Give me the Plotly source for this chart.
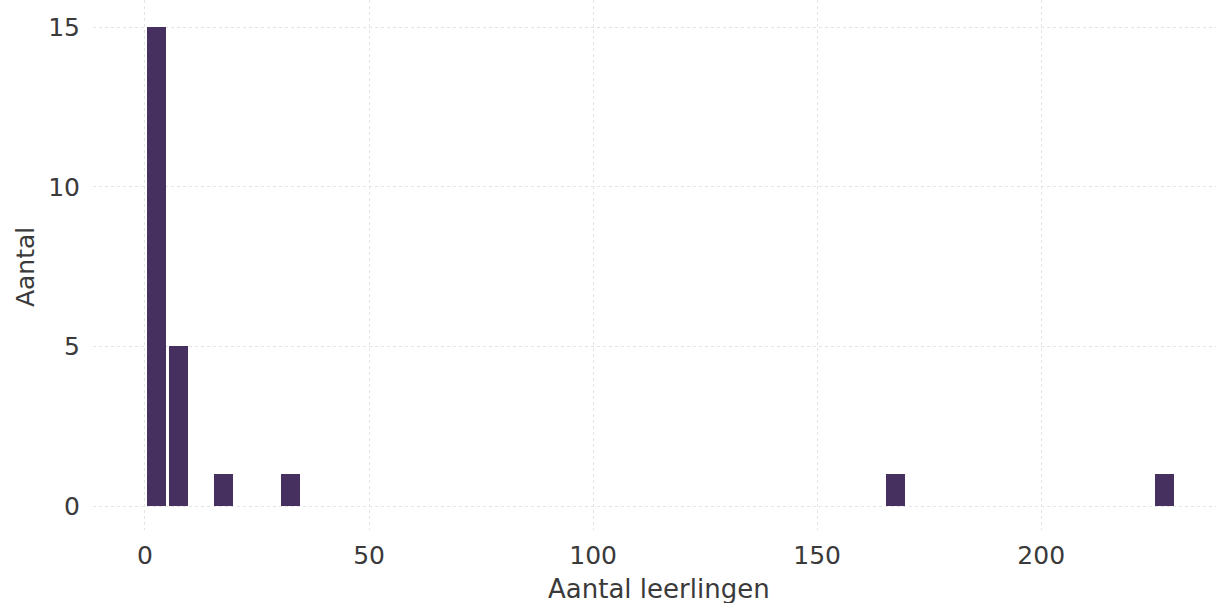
import plotly.graph_objects as go

bin_centers = [2.5, 7.5, 17.5, 32.5, 167.5, 227.5]
counts = [15, 5, 1, 1, 1, 1]
x_ticks = [0, 50, 100, 150, 200]
y_ticks = [0, 5, 10, 15]

bar_color = "#46305f"
font_color = "#3a3a3a"

fig = go.Figure()
fig.add_trace(go.Bar(
    x=bin_centers, y=counts, width=4.3,
    marker=dict(color=bar_color, line=dict(width=0)),
))

fig.update_layout(
    width=1216, height=603,
    margin=dict(l=93, r=0, t=0, b=73, autoexpand=False),
    paper_bgcolor="white", plot_bgcolor="white",
    font=dict(family="DejaVu Sans", size=25, color=font_color),
    showlegend=False,
    bargap=0,
    annotations=[
        dict(text="Aantal leerlingen", xref="paper", yref="paper", x=0.504, y=0,
             yshift=-59, xanchor="center", yanchor="middle", showarrow=False,
             font=dict(size=26, color=font_color)),
        dict(text="Aantal", xref="paper", yref="paper", x=0, y=0.496,
             xshift=-68, xanchor="center", yanchor="middle", showarrow=False,
             textangle=-90, font=dict(size=25, color=font_color)),
    ],
)
fig.update_xaxes(
    range=[-11.6, 239], tickvals=x_ticks, automargin=False,
    showgrid=True, gridcolor="#e4e4e4", gridwidth=1, griddash="dot",
    zeroline=False, showline=False, ticks="", ticklabelstandoff=8,
    tickfont=dict(size=25),
)
fig.update_yaxes(
    range=[-0.75, 15.85], tickvals=y_ticks, automargin=False,
    showgrid=True, gridcolor="#e4e4e4", gridwidth=1, griddash="dot",
    zeroline=False, showline=False, ticks="", ticklabelstandoff=12,
    tickfont=dict(size=25),
)

fig.write_html("out.html", config={"displayModeBar": False},
               post_script="document.body.style.margin='0';")
